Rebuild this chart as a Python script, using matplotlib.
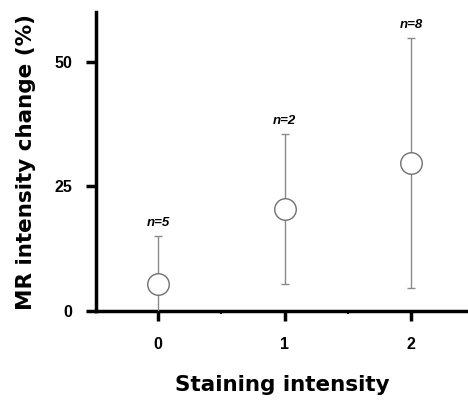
import numpy as np
import matplotlib.pyplot as plt
from matplotlib.ticker import MultipleLocator

plt.rcParams['font.family'] = ['Liberation Sans', 'DejaVu Sans']

#==============================================================================
# Data
#==============================================================================
staining = [0, 1, 2]
mrChange = [5.4, 20.5, 29.7]
errHalf = [9.7, 15.0, 25.0]
nLabels = ['n=5', 'n=2', 'n=8']

#==============================================================================
# Plot
#==============================================================================
fig = plt.figure(figsize = (4.68, 4.0), dpi = 100)
ax = fig.add_axes([0.205, 0.2225, 0.795, 0.7475])

ax.errorbar(staining, mrChange, yerr = errHalf, fmt = 'o', color = '#8a8a8a',
            ecolor = '#8a8a8a', elinewidth = 1, capsize = 3, capthick = 1,
            markersize = 15.5, markerfacecolor = 'white',
            markeredgecolor = '#707070', markeredgewidth = 1, zorder = 3)

for x, y, e, lab in zip(staining, mrChange, errHalf, nLabels):
    ax.annotate(lab, (x, y + e), xytext = (0, 5), textcoords = 'offset points',
                ha = 'center', va = 'bottom', fontsize = 9.5,
                fontweight = 'bold', fontstyle = 'italic')

ax.set_xlim(-0.49, 2.45)
ax.set_ylim(0, 60)
ax.set_xticks(staining)
ax.set_yticks([0, 25, 50])
ax.xaxis.set_minor_locator(MultipleLocator(0.5))
ax.tick_params(axis = 'both', which = 'major', direction = 'out', length = 7,
               width = 2.5, labelsize = 11.5)
ax.tick_params(axis = 'y', which = 'major', pad = 10)
ax.tick_params(axis = 'x', which = 'major', pad = 12)
ax.tick_params(axis = 'x', which = 'minor', direction = 'out', length = 2,
               width = 1.5)
for lab in ax.get_xticklabels() + ax.get_yticklabels():
    lab.set_fontweight('bold')

ax.spines['top'].set_visible(False)
ax.spines['right'].set_visible(False)
ax.spines['left'].set_linewidth(2.5)
ax.spines['bottom'].set_linewidth(2.5)

ax.set_xlabel('Staining intensity', fontsize = 15.5, fontweight = 'bold',
              family = 'DejaVu Sans', labelpad = 16)
ax.set_ylabel('MR intensity change (%)', fontsize = 15.5, fontweight = 'bold',
              family = 'DejaVu Sans', labelpad = 13)

fig.savefig('out.png', dpi = 100)
